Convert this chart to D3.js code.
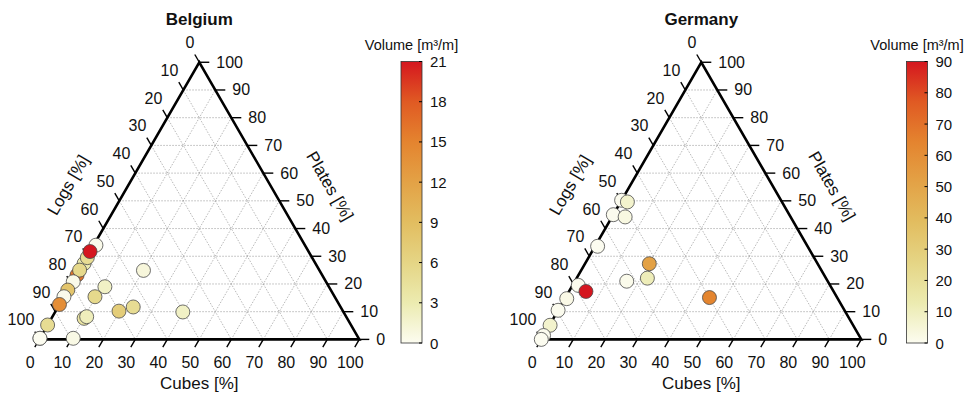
<!DOCTYPE html>
<html>
<head>
<meta charset="utf-8">
<script src="https://cdn.jsdelivr.net/npm/d3@7"></script>
<style>
  body { margin: 0; background: #fff; }
  text { font-family: "Liberation Sans", Arial, sans-serif; fill: #111; }
</style>
</head>
<body>
<svg id="chart" width="969" height="394"></svg>
<script>
// ternary tick values (%)
const ternTicks = d3.range(0, 101, 10)

// Belgium samples: cubes %, plates %, volume m3/m (logs = 100 - cubes - plates)
const belgiumCubes  = [0.7, 0.3, 0.2, 0.1, 0.2, 0, 0, 0, 0, 0, 0, 10.4, 20.1, 11.0, 9.7, 10.2, 10.7, 19.8, 23.5, 39.9, 0.25, 0]
const belgiumPlates = [34.0, 27.4, 23.2, 25.0, 20.8, 17.8, 15.4, 12.6, 5.2, 0.4, 0.4, 0.4, 24.9, 19.0, 15.4, 7.6, 8.2, 10.2, 11.7, 9.9, 29.5, 31.7]
const belgiumVolume = [0.3, 3, 16, 5.5, 0.3, 8, 0.3, 14, 5, 0, 0, 0.5, 1, 2, 5.5, 4, 2.5, 7, 5, 2, 5, 21]

// Germany samples
const germanyCubes  = [0, 2.1, 0, 4.1, 0.8, 20.1, 22.1, 16.2, 1.8, 5.3, 0.6, 0, 0.2, 0, 0, 45.0]
const germanyPlates = [50.2, 49.6, 45.0, 44.2, 33.6, 27.3, 22.1, 21.0, 19.5, 17.3, 14.7, 10.5, 5.1, 1.4, 0, 15.1]
const germanyVolume = [0.5, 7, 0.5, 3, 0, 52, 11, 1, 0.5, 90, 2, 0.5, 7, 0.5, 0, 64]

// colour bar ticks
const belgiumVolTicks = d3.range(0, 22, 3)
const germanyVolTicks = d3.range(0, 91, 10)

// colour ramp (fraction of max -> colour)
const rampStops  = [0, 0.143, 0.286, 0.429, 0.571, 0.714, 0.857, 1]
const rampColors = ["#fcfcf0", "#ecebb0", "#e5d585", "#e2bd60", "#e3a246", "#e4842f", "#e05a23", "#d5161f"]

const panels = [
  { title: "Belgium", cubes: belgiumCubes, plates: belgiumPlates, volume: belgiumVolume,
    volTicks: belgiumVolTicks, x0: 39.3, barX: 401 },
  { title: "Germany", cubes: germanyCubes, plates: germanyPlates, volume: germanyVolume,
    volTicks: germanyVolTicks, x0: 541.3, barX: 906.5 }
]

const svg = d3.select("#chart")
const side = 320
const triH = side * Math.sqrt(3) / 2
const y0 = 339.4
const s3 = Math.sqrt(3) / 2

const defs = svg.append("defs")

panels.forEach((pn, i) => {
  const g = svg.append("g")
  // u = cubes + plates/2 along the base, p = plates height
  const xs = d3.scaleLinear().domain([0, 100]).range([pn.x0, pn.x0 + side])
  const ys = d3.scaleLinear().domain([0, 100]).range([y0, y0 - triH])
  const proj = (c, p) => [xs(c + p / 2), ys(p)]

  const vmax = d3.max(pn.volTicks)
  const color = d3.scaleLinear()
    .domain(rampStops.map(f => f * vmax))
    .range(rampColors)

  // grid
  const grid = []
  ternTicks.filter(k => k > 0 && k < 100).forEach(k => {
    grid.push([proj(0, k), proj(100 - k, k)])          // plates
    grid.push([proj(k, 0), proj(k, 100 - k)])          // cubes
    grid.push([proj(0, 100 - k), proj(100 - k, 0)])    // logs
  })
  g.selectAll(".grid").data(grid).enter().append("line")
    .attr("class", "grid")
    .attr("x1", d => d[0][0]).attr("y1", d => d[0][1])
    .attr("x2", d => d[1][0]).attr("y2", d => d[1][1])
    .attr("stroke", "#9a9a9a")
    .attr("stroke-width", 0.7)
    .attr("stroke-dasharray", "1.5,1.5")

  // frame
  const corners = [proj(0, 0), proj(100, 0), proj(0, 100)]
  g.append("path")
    .attr("d", d3.line()(corners) + "Z")
    .attr("fill", "none")
    .attr("stroke", "#000")
    .attr("stroke-width", 2.6)
    .attr("stroke-linejoin", "miter")

  const tl = 9
  // logs ticks (left edge), pointing up-left
  ternTicks.forEach(k => {
    const [x, y] = proj(0, 100 - k)
    g.append("line").attr("x1", x).attr("y1", y)
      .attr("x2", x - tl * 0.5).attr("y2", y - tl * s3)
      .attr("stroke", "#000").attr("stroke-width", 1.4)
    g.append("text").attr("x", x - 5).attr("y", y - 19.5)
      .attr("text-anchor", "end").attr("dominant-baseline", "central")
      .attr("font-size", 16).text(k)
  })
  // cubes ticks (bottom edge), pointing down-left
  ternTicks.forEach(k => {
    const [x, y] = proj(k, 0)
    g.append("line").attr("x1", x).attr("y1", y)
      .attr("x2", x - tl * 0.5).attr("y2", y + tl * s3)
      .attr("stroke", "#000").attr("stroke-width", 1.4)
    g.append("text").attr("x", x - 9).attr("y", y + 23)
      .attr("text-anchor", "middle").attr("dominant-baseline", "central")
      .attr("font-size", 16).text(k)
  })
  // plates ticks (right edge), horizontal
  ternTicks.forEach(k => {
    const [x, y] = proj(100 - k, k)
    g.append("line").attr("x1", x).attr("y1", y)
      .attr("x2", x + tl + 1).attr("y2", y)
      .attr("stroke", "#000").attr("stroke-width", 1.4)
    g.append("text").attr("x", x + 17).attr("y", y)
      .attr("text-anchor", "start").attr("dominant-baseline", "central")
      .attr("font-size", 16).text(k)
  })

  // axis titles
  const ml = proj(0, 50)
  const lx = ml[0] - 0.866 * 52 - 0.5 * 12, ly = ml[1] - 0.5 * 52 + 0.866 * 12
  g.append("text").attr("transform", `translate(${lx},${ly}) rotate(-60)`)
    .attr("text-anchor", "middle").attr("dominant-baseline", "central")
    .attr("font-size", 17).text("Logs [%]")
  const mr = proj(50, 50)
  const rx = mr[0] + 0.866 * 51 + 0.5 * 12.6, ry = mr[1] - 0.5 * 51 + 0.866 * 12.6
  g.append("text").attr("transform", `translate(${rx},${ry}) rotate(60)`)
    .attr("text-anchor", "middle").attr("dominant-baseline", "central")
    .attr("font-size", 17).text("Plates [%]")
  g.append("text").attr("x", xs(50)).attr("y", 383)
    .attr("text-anchor", "middle").attr("dominant-baseline", "central")
    .attr("font-size", 17).text("Cubes [%]")

  g.append("text").attr("x", xs(50)).attr("y", 19)
    .attr("text-anchor", "middle").attr("dominant-baseline", "central")
    .attr("font-size", 17).attr("font-weight", "bold").text(pn.title)

  // points
  const pts = pn.cubes.map((c, j) => ({ c: c, p: pn.plates[j], v: pn.volume[j] }))
  g.selectAll(".pt").data(pts).enter().append("circle")
    .attr("class", "pt")
    .attr("cx", d => proj(d.c, d.p)[0])
    .attr("cy", d => proj(d.c, d.p)[1])
    .attr("r", 7)
    .attr("fill", d => color(d.v))
    .attr("stroke", "#4a4a4a")
    .attr("stroke-width", 0.8)

  // colour bar
  const gid = "grad" + i
  const grad = defs.append("linearGradient").attr("id", gid)
    .attr("x1", 0).attr("y1", 1).attr("x2", 0).attr("y2", 0)
  rampStops.forEach((f, j) => {
    grad.append("stop").attr("offset", f).attr("stop-color", rampColors[j])
  })
  const bw = 21
  const cy = d3.scaleLinear().domain([0, vmax]).range([343, 61.5])
  g.append("rect").attr("x", pn.barX).attr("y", cy(vmax))
    .attr("width", bw).attr("height", cy(0) - cy(vmax))
    .attr("fill", `url(#${gid})`)
    .attr("stroke", "#333").attr("stroke-width", 0.8)
  g.selectAll(".cbt").data(pn.volTicks).enter().append("line")
    .attr("class", "cbt")
    .attr("x1", pn.barX + bw - 3).attr("x2", pn.barX + bw)
    .attr("y1", d => cy(d)).attr("y2", d => cy(d))
    .attr("stroke", "#000").attr("stroke-width", 1)
  g.selectAll(".cbl").data(pn.volTicks).enter().append("text")
    .attr("class", "cbl")
    .attr("x", pn.barX + bw + 8)
    .attr("y", d => cy(d))
    .attr("dominant-baseline", "central")
    .attr("font-size", 15)
    .text(d => d)
  g.append("text").attr("x", pn.barX + bw / 2).attr("y", 45)
    .attr("text-anchor", "middle").attr("dominant-baseline", "central")
    .attr("font-size", 14.5).text("Volume [m³/m]")
})
</script>
</body>
</html>
